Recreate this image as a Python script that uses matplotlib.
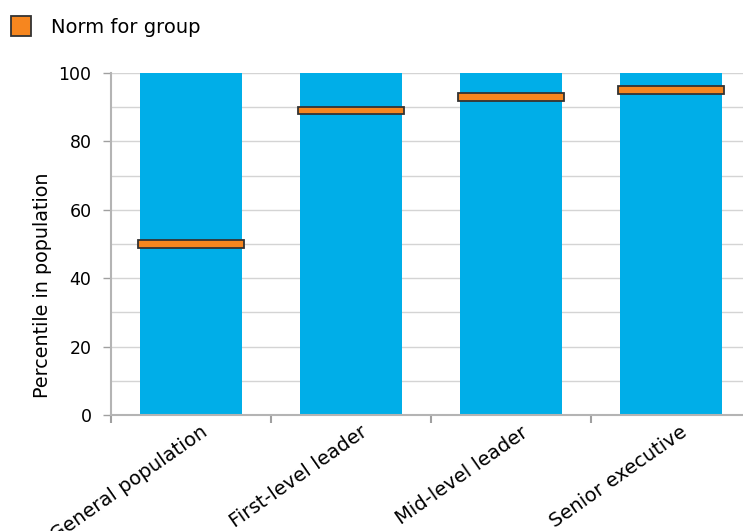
import matplotlib
matplotlib.use("Agg")
import matplotlib.pyplot as plt
import matplotlib.transforms as mtransforms
from matplotlib.patches import Patch

groups = ["General population", "First-level leader", "Mid-level leader", "Senior executive"]
bar_values = [100, 100, 100, 100]
norm_values = [50, 89, 93, 95]

blue = "#00aee8"
orange = "#f6861f"

plt.rcParams["font.family"] = ["DejaVu Sans"]

fig = plt.figure(figsize=(7.43, 5.31), dpi=100)
ax = fig.add_axes([111 / 743, 116 / 531, 640 / 743, 342 / 531])

x = list(range(len(groups)))
ax.bar(x, bar_values, width=0.64, color=blue, zorder=2)
mh = 2.2
ax.bar(x, [mh] * len(x), bottom=[v - mh / 2 for v in norm_values], width=0.66,
       color=orange, edgecolor="#333333", linewidth=1.3, zorder=3)

ax.set_xlim(-0.5, len(groups) - 0.5)
ax.set_ylim(0, 100)
ax.set_yticks(range(0, 101, 20))
ax.set_yticks(range(0, 101, 10), minor=True)
ax.yaxis.grid(True, which="both", color="#d4d4d4", linewidth=1, zorder=0)
ax.set_axisbelow(True)

ax.set_xticks([i - 0.5 for i in range(len(groups) + 1)])
ax.set_xticklabels([])
ax.set_xticks(x, minor=True)
ax.tick_params(axis="x", which="minor", length=0, pad=4)
ax.tick_params(axis="x", which="major", length=6, color="#a0a0a0", width=1.5)
ax.tick_params(axis="y", which="major", length=6, color="#a0a0a0", width=1, labelsize=12.5, pad=8)
ax.tick_params(axis="y", which="minor", length=0)
ax.set_xticklabels(groups, minor=True, rotation=35, ha="right", fontsize=14)
offset = mtransforms.ScaledTranslation(0.2, -0.02, fig.dpi_scale_trans)
for lbl in ax.get_xticklabels(minor=True):
    lbl.set_transform(lbl.get_transform() + offset)

for s in ["top", "right"]:
    ax.spines[s].set_visible(False)
for s in ["left", "bottom"]:
    ax.spines[s].set_color("#b4b4b4")
    ax.spines[s].set_linewidth(1.5)

ax.set_ylabel("Percentile in population", fontsize=13.8)
ax.yaxis.set_label_coords(-0.092, 0.38)

fig.legend(handles=[Patch(facecolor=orange, edgecolor="#333333", linewidth=1.3, label="Norm for group")],
           loc="upper left", bbox_to_anchor=(0.0, 0.99), frameon=False, fontsize=14,
           handlelength=1.05, handleheight=1.2, handletextpad=1.0, borderaxespad=0.15)

fig.savefig("out.png", dpi=100)
